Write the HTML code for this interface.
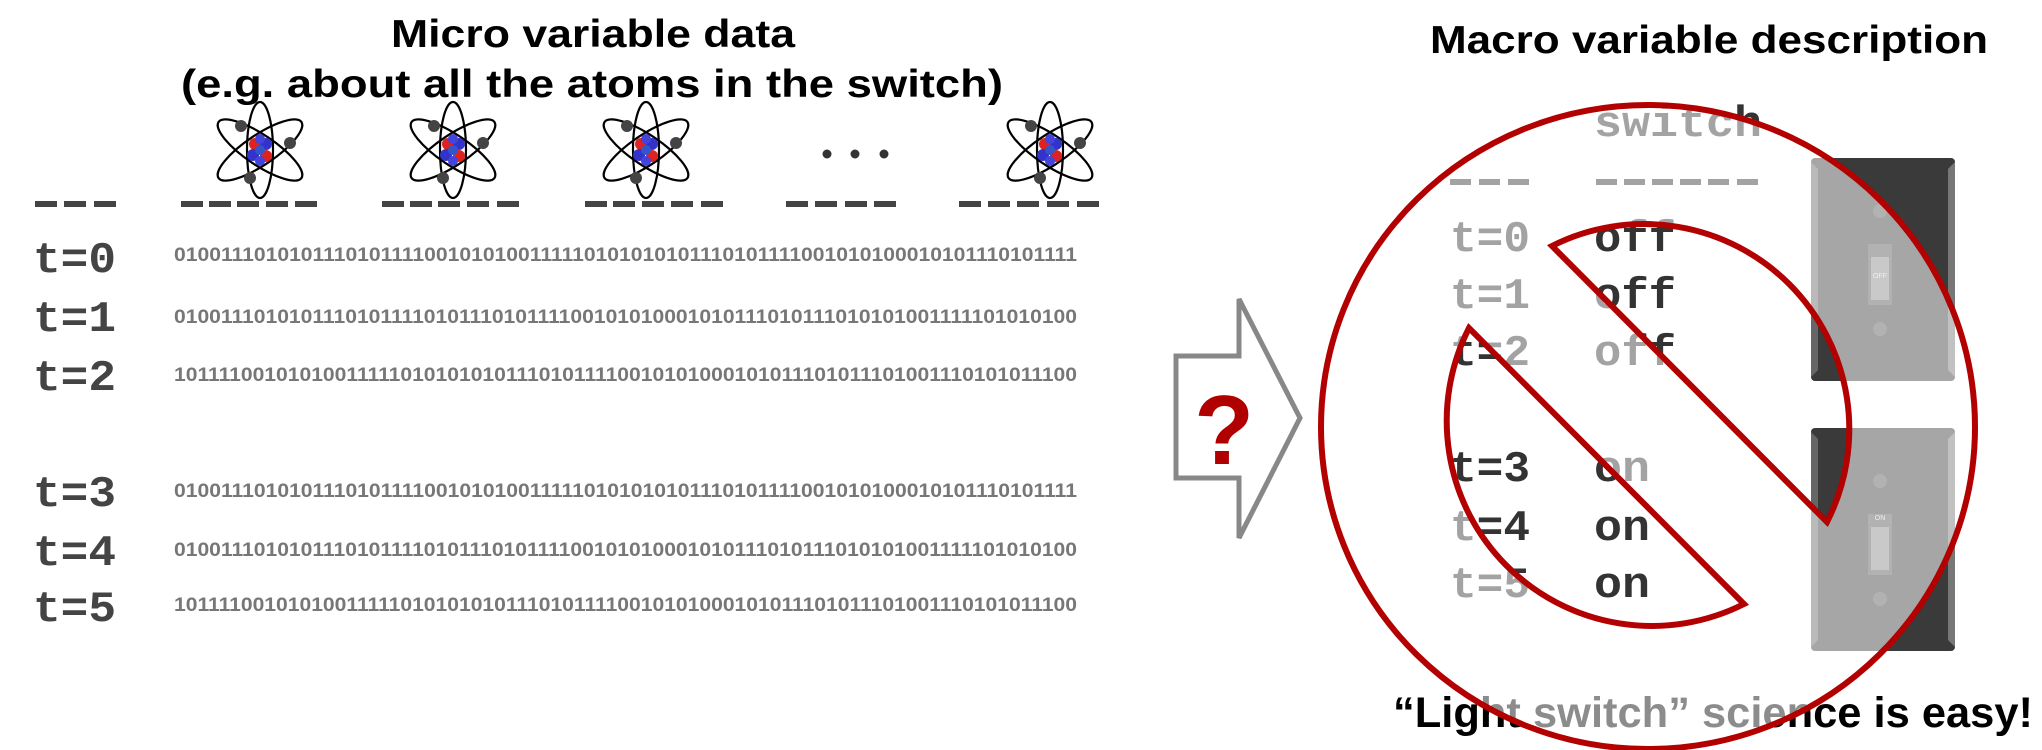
<!DOCTYPE html>
<html><head><meta charset="utf-8"><style>
html,body{margin:0;padding:0;background:#fff;}
svg{display:block;}
</style></head><body>
<svg width="2042" height="750" viewBox="0 0 2042 750" xmlns="http://www.w3.org/2000/svg">
<defs>
<g id="atom">
 <g fill="none" stroke="#000" stroke-width="2.2">
  <ellipse cx="0" cy="0" rx="13" ry="48"/>
  <ellipse cx="0" cy="0" rx="50" ry="15" transform="rotate(34)"/>
  <ellipse cx="0" cy="0" rx="50" ry="15" transform="rotate(-34)"/>
 </g>
 <circle cx="-19" cy="-24" r="6" fill="#444"/>
 <circle cx="30" cy="-7" r="6" fill="#444"/>
 <circle cx="-10" cy="28" r="6" fill="#444"/>
 <circle cx="-5" cy="-6" r="6" fill="#d22"/>
 <circle cx="6" cy="-6" r="6" fill="#33c"/>
 <circle cx="-7" cy="5" r="6" fill="#33c"/>
 <circle cx="6" cy="6" r="6" fill="#d22"/>
 <circle cx="0" cy="-11" r="5" fill="#44d"/>
 <circle cx="0" cy="11" r="5" fill="#44d"/>
 <circle cx="0" cy="0" r="5" fill="#35c"/>
</g>
<g id="plate">
 <rect x="0" y="0" width="144" height="223" rx="4" fill="#3a3a3a"/>
 <polygon points="0,4 7,11 7,212 0,219" fill="#666"/>
 <polygon points="144,4 137,11 137,212 144,219" fill="#777"/>
 <circle cx="69" cy="53" r="7" fill="#555"/>
 <circle cx="69" cy="171" r="7" fill="#555"/>
 <rect x="57" y="86" width="24" height="61" fill="#555"/>
 <rect x="60" y="99" width="18" height="43" fill="#888"/>
</g>
</defs>

<text x="593" y="47" text-anchor="middle" font-family="Liberation Sans, sans-serif" font-weight="bold" font-size="39" textLength="404" lengthAdjust="spacingAndGlyphs" fill="#000">Micro variable data</text>
<text x="592" y="97" text-anchor="middle" font-family="Liberation Sans, sans-serif" font-weight="bold" font-size="39" textLength="822" lengthAdjust="spacingAndGlyphs" fill="#000">(e.g. about all the atoms in the switch)</text>

<use href="#atom" x="260" y="150"/>
<use href="#atom" x="453" y="150"/>
<use href="#atom" x="646" y="150"/>
<use href="#atom" x="1050" y="150"/>
<circle cx="827" cy="154" r="4.5" fill="#333"/>
<circle cx="855" cy="154" r="4.5" fill="#333"/>
<circle cx="884" cy="154" r="4.5" fill="#333"/>

<g fill="#444">
 <rect x="35" y="201" width="22" height="6"/><rect x="64" y="201" width="22" height="6"/><rect x="94" y="201" width="22" height="6"/>
 <rect x="181" y="201" width="22" height="6"/><rect x="209" y="201" width="22" height="6"/><rect x="237" y="201" width="22" height="6"/><rect x="266" y="201" width="22" height="6"/><rect x="295" y="201" width="22" height="6"/>
 <rect x="382" y="201" width="22" height="6"/><rect x="410" y="201" width="22" height="6"/><rect x="438" y="201" width="22" height="6"/><rect x="467" y="201" width="22" height="6"/><rect x="497" y="201" width="22" height="6"/>
 <rect x="585" y="201" width="22" height="6"/><rect x="613" y="201" width="22" height="6"/><rect x="642" y="201" width="22" height="6"/><rect x="671" y="201" width="22" height="6"/><rect x="701" y="201" width="22" height="6"/>
 <rect x="786" y="201" width="22" height="6"/><rect x="815" y="201" width="22" height="6"/><rect x="845" y="201" width="22" height="6"/><rect x="874" y="201" width="22" height="6"/>
 <rect x="959" y="201" width="22" height="6"/><rect x="988" y="201" width="22" height="6"/><rect x="1017" y="201" width="22" height="6"/><rect x="1047" y="201" width="22" height="6"/><rect x="1077" y="201" width="22" height="6"/>
</g>

<g font-family="Liberation Mono, monospace" font-weight="bold" font-size="44" fill="#444">
 <text x="33" y="272" textLength="83" lengthAdjust="spacingAndGlyphs">t=0</text>
 <text x="33" y="331" textLength="83" lengthAdjust="spacingAndGlyphs">t=1</text>
 <text x="33" y="390" textLength="83" lengthAdjust="spacingAndGlyphs">t=2</text>
 <text x="33" y="506" textLength="83" lengthAdjust="spacingAndGlyphs">t=3</text>
 <text x="33" y="565" textLength="83" lengthAdjust="spacingAndGlyphs">t=4</text>
 <text x="33" y="621" textLength="83" lengthAdjust="spacingAndGlyphs">t=5</text>
</g>
<g font-family="Liberation Sans, sans-serif" font-weight="bold" font-size="19" fill="#777">
 <text x="174" y="261" textLength="903" lengthAdjust="spacingAndGlyphs">0100111010101110101111001010100111110101010101110101111001010100010101110101111</text>
 <text x="174" y="323" textLength="903" lengthAdjust="spacingAndGlyphs">0100111010101110101111010111010111100101010001010111010111010101001111101010100</text>
 <text x="174" y="381" textLength="903" lengthAdjust="spacingAndGlyphs">1011110010101001111101010101011101011110010101000101011101011101001110101011100</text>
 <text x="174" y="497" textLength="903" lengthAdjust="spacingAndGlyphs">0100111010101110101111001010100111110101010101110101111001010100010101110101111</text>
 <text x="174" y="556" textLength="903" lengthAdjust="spacingAndGlyphs">0100111010101110101111010111010111100101010001010111010111010101001111101010100</text>
 <text x="174" y="611" textLength="903" lengthAdjust="spacingAndGlyphs">1011110010101001111101010101011101011110010101000101011101011101001110101011100</text>
</g>

<polygon points="1176,356 1239,356 1239,299 1300,418 1239,538 1239,478 1176,478" fill="#fff" stroke="#888" stroke-width="5" stroke-linejoin="miter"/>
<text x="1224" y="464" text-anchor="middle" font-family="Liberation Sans, sans-serif" font-weight="bold" font-size="98" fill="#b00000">?</text>

<text x="1709" y="53" text-anchor="middle" font-family="Liberation Sans, sans-serif" font-weight="bold" font-size="39" textLength="558" lengthAdjust="spacingAndGlyphs" fill="#000">Macro variable description</text>

<use href="#plate" x="1811" y="158"/>
<use href="#plate" x="1811" y="428"/>
<text x="1880" y="278" text-anchor="middle" font-family="Liberation Sans, sans-serif" font-size="7" fill="#ddd">OFF</text>
<text x="1880" y="520" text-anchor="middle" font-family="Liberation Sans, sans-serif" font-size="7" fill="#ddd">ON</text>

<g font-family="Liberation Mono, monospace" font-weight="bold" font-size="44" fill="#333">
 <text x="1594" y="136" textLength="168" lengthAdjust="spacingAndGlyphs">switch</text>
 <text x="1450" y="251" textLength="80" lengthAdjust="spacingAndGlyphs">t=0</text>
 <text x="1450" y="308" textLength="80" lengthAdjust="spacingAndGlyphs">t=1</text>
 <text x="1450" y="365" textLength="80" lengthAdjust="spacingAndGlyphs">t=2</text>
 <text x="1450" y="481" textLength="80" lengthAdjust="spacingAndGlyphs">t=3</text>
 <text x="1450" y="540" textLength="80" lengthAdjust="spacingAndGlyphs">t=4</text>
 <text x="1450" y="597" textLength="80" lengthAdjust="spacingAndGlyphs">t=5</text>
 <text x="1594" y="251" textLength="82" lengthAdjust="spacingAndGlyphs">off</text>
 <text x="1594" y="308" textLength="82" lengthAdjust="spacingAndGlyphs">off</text>
 <text x="1594" y="365" textLength="82" lengthAdjust="spacingAndGlyphs">off</text>
 <text x="1594" y="481" textLength="56" lengthAdjust="spacingAndGlyphs">on</text>
 <text x="1594" y="540" textLength="56" lengthAdjust="spacingAndGlyphs">on</text>
 <text x="1594" y="597" textLength="56" lengthAdjust="spacingAndGlyphs">on</text>
</g>
<g fill="#333">
 <rect x="1450" y="179" width="21" height="6"/><rect x="1479" y="179" width="21" height="6"/><rect x="1508" y="179" width="21" height="6"/>
 <rect x="1596" y="179" width="21" height="6"/><rect x="1624" y="179" width="21" height="6"/><rect x="1652" y="179" width="21" height="6"/><rect x="1680" y="179" width="21" height="6"/><rect x="1708" y="179" width="21" height="6"/><rect x="1737" y="179" width="21" height="6"/>
</g>

<text x="1393" y="727" font-family="Liberation Sans, sans-serif" font-weight="bold" font-size="43" textLength="640" lengthAdjust="spacingAndGlyphs" fill="#000">“Light switch” science is easy!</text>

<path fill="#fff" fill-opacity="0.55" fill-rule="evenodd"
 d="M1321,427 A327,322 0 1 0 1975,427 A327,322 0 1 0 1321,427 Z
    M1552,246 A205,205 0 0 1 1827,522 Z
    M1469,328 A205,205 0 0 0 1744,604 Z"/>

<g fill="none" stroke="#b30000" stroke-width="6" stroke-linejoin="miter">
 <ellipse cx="1648" cy="427" rx="327" ry="322"/>
 <path d="M1552,246 A205,205 0 0 1 1827,522 Z"/>
 <path d="M1469,328 A205,205 0 0 0 1744,604 Z"/>
</g>
</svg>
</body></html>
